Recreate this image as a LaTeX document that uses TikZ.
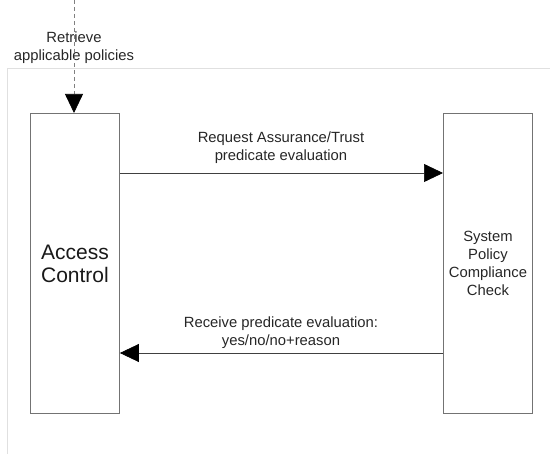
\documentclass[tikz,border=0pt]{standalone}
\usepackage{fontspec}
\setmainfont{Liberation Sans}
\usetikzlibrary{arrows.meta}
\begin{document}
\begin{tikzpicture}[x=1pt,y=-1pt,
  block/.style={draw=black!55,line width=0.9pt,minimum width=89pt,minimum height=300pt,inner sep=0pt,anchor=north west},
  lbl/.style={align=center,font=\fontsize{14.8}{17.8}\selectfont,text=black!85},
  tip/.style={Triangle[length=19pt,width=18pt,black]},
  msg/.style={draw=black!75,line width=0.7pt,-{Triangle[length=19pt,width=18pt,black]}},
  frame/.style={draw=black!12,line width=0.8pt}]
\useasboundingbox (0,0) rectangle (550,454);
% faint enclosing frame
\draw[frame] (550,68) -- (7,68) -- (7,454);
% the two participants
\node[block] (ac) at (30,113) {};
\node[block] (sp) at (443,113) {};
\node[font=\fontsize{21}{23}\selectfont,align=center,text=black!90] at (ac.center) {Access\\Control};
\node[lbl] at (sp.center) {System\\Policy\\Compliance\\Check};
% incoming policy retrieval
\coordinate (top) at (74,0);
\coordinate (acin) at (74,113);
\node[lbl] at (74,48) {Retrieve\\applicable policies};
\draw[draw=black!50,line width=0.7pt,dash pattern=on 4pt off 3pt,-{Triangle[length=19pt,width=18pt,black]}] (top) -- (acin);
% messages
\coordinate (r1) at (ac.east |- 0,173);
\coordinate (r2) at (sp.west |- 0,173);
\draw[msg] (r1) -- (r2);
\node[lbl] at (281,148) {Request Assurance/Trust\\predicate evaluation};
\coordinate (s1) at (sp.west |- 0,353);
\coordinate (s2) at (ac.east |- 0,353);
\draw[msg] (s1) -- (s2);
\node[lbl] at (281,333) {Receive predicate evaluation:\\yes/no/no+reason};
\end{tikzpicture}
\end{document}
